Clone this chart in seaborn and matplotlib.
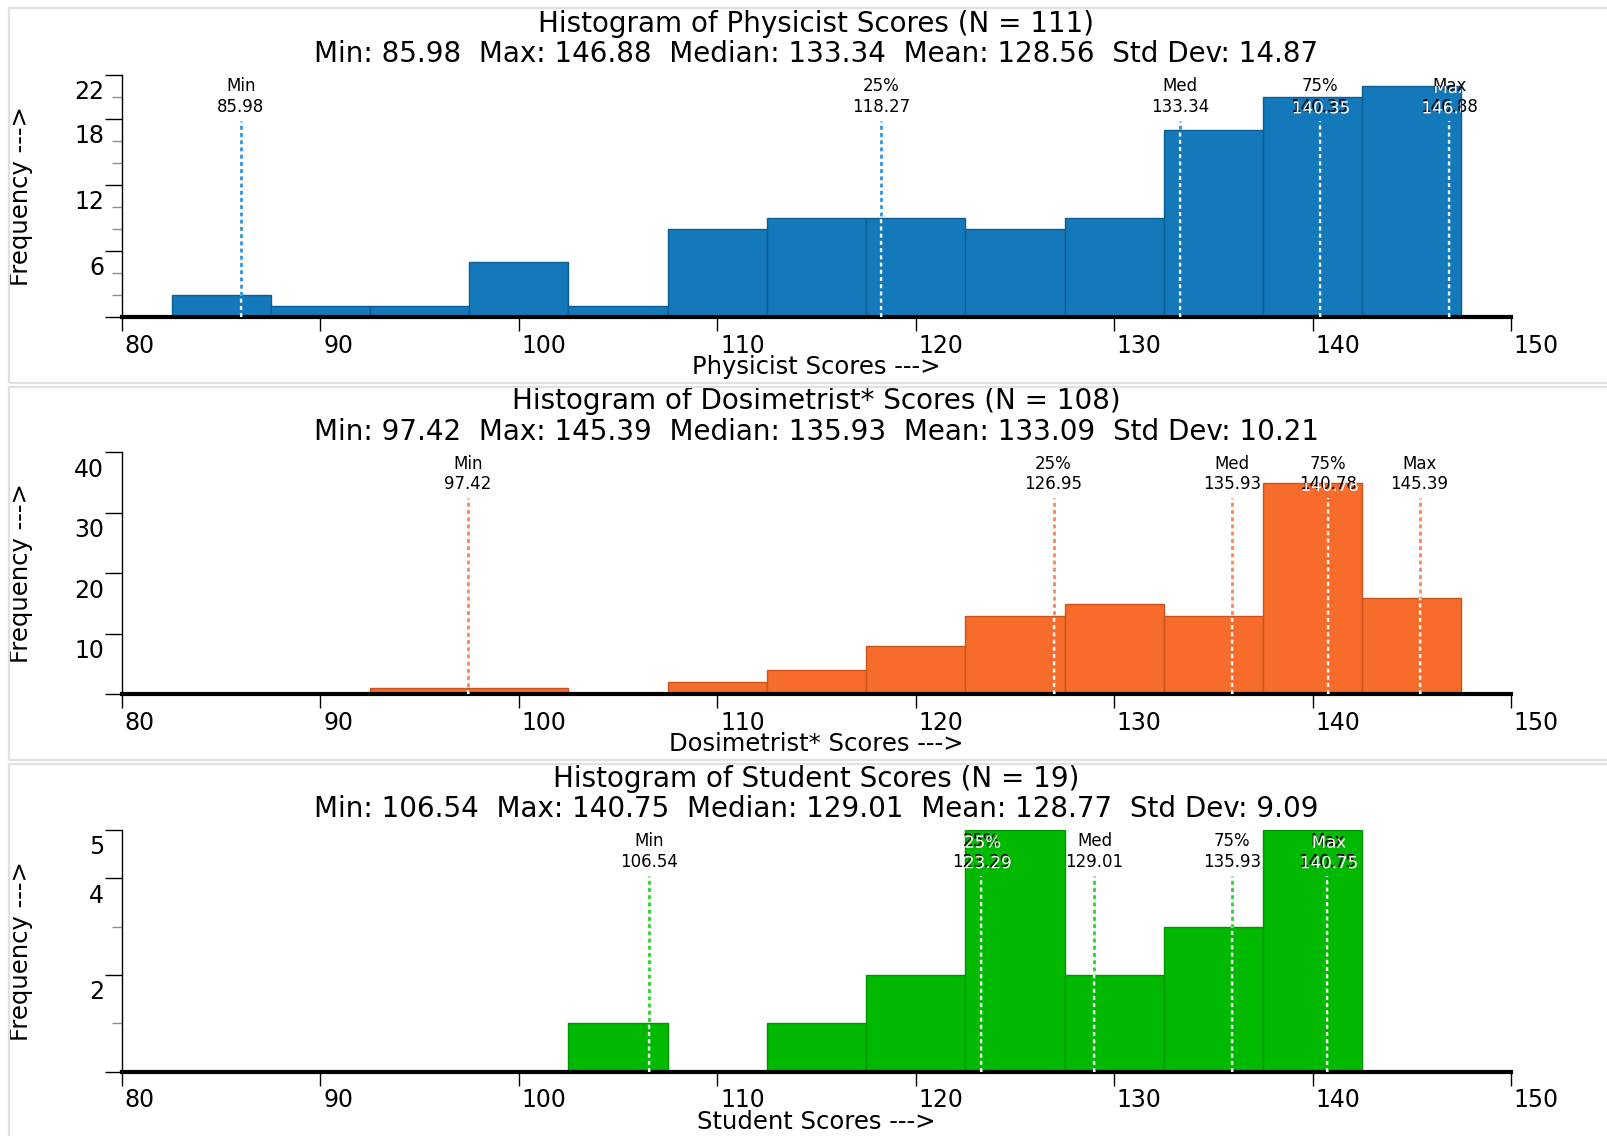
import matplotlib
matplotlib.use("Agg")
import matplotlib.pyplot as plt
import matplotlib.patheffects as pe
from matplotlib import transforms as mtransforms
from matplotlib.path import Path
from matplotlib.patches import Rectangle
import numpy as np
import seaborn as sns

# ---- data -------------------------------------------------------------
bin_edges = [82.5, 87.5, 92.5, 97.5, 102.5, 107.5, 112.5,
             117.5, 122.5, 127.5, 132.5, 137.5, 142.5, 147.5]

physicist_counts = [2, 1, 1, 5, 1, 8, 9, 9, 8, 9, 17, 20, 21]
dosimetrist_counts = [0, 0, 1, 1, 0, 2, 4, 8, 13, 15, 13, 35, 16]
student_counts = [0, 0, 0, 0, 1, 0, 1, 2, 5, 2, 3, 5, 0]

group_names = ["Physicist", "Dosimetrist*", "Student"]
group_n = [111, 108, 19]
group_min = [85.98, 97.42, 106.54]
group_q1 = [118.27, 126.95, 123.29]
group_median = [133.34, 135.93, 129.01]
group_q3 = [140.35, 140.78, 135.93]
group_max = [146.88, 145.39, 140.75]
group_mean = [128.56, 133.09, 128.77]
group_std = [14.87, 10.21, 9.09]

stat_labels = ["Min", "25%", "Med", "75%", "Max"]

x_ticks = [80, 90, 100, 110, 120, 130, 140, 150]
y_major_ticks = [[0, 6, 12, 18, 22], [0, 10, 20, 30, 40], [0, 2, 4, 5]]
y_minor_ticks = [[2, 4, 8, 10, 14, 16, 20], [], [1, 3]]

# ---- styling ----------------------------------------------------------
bar_colors = ["#1379ba", "#f76b2b", "#00b900"]
edge_colors = ["#0e5d91", "#c9541d", "#009400"]
marker_colors = ["#3393dc", "#fb8658", "#2fd12f"]

sns.set_theme(style="ticks")
plt.rcParams["font.family"] = ["DejaVu Sans"]
plt.rcParams["axes.edgecolor"] = "black"
plt.rcParams["xtick.color"] = "black"
plt.rcParams["ytick.color"] = "black"
plt.rcParams["text.color"] = "black"
plt.rcParams["axes.labelcolor"] = "black"

W, H = 1608, 1136
fig = plt.figure(figsize=(W / 100, H / 100), dpi=100)

# panel frames (pixel rows: top, bottom)
for top, bot in [(8, 383), (387, 760), (764, 1140)]:
    fig.add_artist(Rectangle((9 / W, 1 - bot / H), (1640 - 9) / W, (bot - top) / H,
                             transform=fig.transFigure, fill=False,
                             edgecolor="#e1e1e1", linewidth=1.6, clip_on=False))

ax_left, ax_w, ax_h = 122 / W, 1389 / W, 242 / H
baselines = [316.9, 694.3, 1071.7]
all_counts = [physicist_counts, dosimetrist_counts, student_counts]
bin_centers = [(a + b) / 2 for a, b in zip(bin_edges[:-1], bin_edges[1:])]

ax_px_h = 242.0
line_top = 1 - 46 / ax_px_h
lab_y = 1 - 11.5 / ax_px_h
val_y = 1 - 32 / ax_px_h
dash = (0, (1.4, 1.2))
dash_lw = 2.0

for i, name in enumerate(group_names):
    ax = fig.add_axes([ax_left, 1 - baselines[i] / H, ax_w, ax_h])
    sns.histplot(x=bin_centers, weights=all_counts[i], bins=bin_edges, ax=ax,
                 color=bar_colors[i], edgecolor=edge_colors[i], linewidth=1,
                 alpha=1)

    ax.set_xlim(80, 150)
    ax.set_ylim(0, y_major_ticks[i][-1])
    sns.despine(ax=ax)
    ax.spines["bottom"].set_linewidth(3)
    ax.spines["left"].set_linewidth(1)

    # clip region covering the filled bars
    bars = [p for p in ax.patches if p.get_height() > 0]
    clip = Path.make_compound_path(
        *[p.get_path().transformed(p.get_patch_transform()) for p in bars])

    blend = mtransforms.blended_transform_factory(ax.transData, ax.transAxes)
    shifted = mtransforms.offset_copy(blend, fig=fig, x=1.5, y=-1.5, units="dots")

    stats = [group_min[i], group_q1[i], group_median[i], group_q3[i], group_max[i]]
    for val, lab in zip(stats, stat_labels):
        ax.axvline(val, ymin=0, ymax=line_top, color=marker_colors[i],
                   lw=dash_lw, ls=dash, zorder=3)
        wl = ax.axvline(val, ymin=0, ymax=line_top, color="white",
                        lw=dash_lw * 0.8, ls=(0, (1.75, 1.5)), zorder=4)
        wl.set_clip_path(clip, ax.transData)
        for txt, yy in ((lab, lab_y), (f"{val:.2f}", val_y)):
            ax.text(val, yy, txt, transform=blend, ha="center", va="center",
                    fontsize=12, color="black", zorder=5)
            wt = ax.text(val, yy, txt, transform=shifted, ha="center",
                         va="center", fontsize=12, color="white", zorder=6,
                         clip_on=True, path_effects=[pe.Normal()])
            wt.set_clip_path(clip, ax.transData)

    # titles
    ax.text(0.5, 1 + 51 / ax_px_h,
            f"Histogram of {name} Scores (N = {group_n[i]})",
            transform=ax.transAxes, ha="center", va="center", fontsize=20)
    ax.text(0.5, 1 + 20.5 / ax_px_h,
            f"Min: {group_min[i]:.2f}  Max: {group_max[i]:.2f}  "
            f"Median: {group_median[i]:.2f}  Mean: {group_mean[i]:.2f}  "
            f"Std Dev: {group_std[i]:.2f}",
            transform=ax.transAxes, ha="center", va="center", fontsize=20)

    # ticks
    ax.set_xticks(x_ticks)
    ax.set_xticklabels([str(t) for t in x_ticks], ha="left")
    ax.tick_params(axis="x", direction="out", length=10, width=1, pad=2,
                   labelsize=17, bottom=True)
    for lbl in ax.get_xticklabels():
        lbl.set_transform(lbl.get_transform() + mtransforms.ScaledTranslation(
            2 / 72, 0, fig.dpi_scale_trans))
    ax.set_yticks(y_major_ticks[i])
    ax.set_yticklabels(["" if t == 0 else str(t) for t in y_major_ticks[i]],
                       va="top")
    ax.set_yticks(y_minor_ticks[i], minor=True)
    ax.tick_params(axis="y", which="major", direction="out", length=12,
                   width=1, pad=1, labelsize=17, left=True)
    ax.tick_params(axis="y", which="minor", direction="out", length=7,
                   width=1, color="#8c8c8c", left=True)
    for lbl in ax.get_yticklabels():
        lbl.set_transform(lbl.get_transform() + mtransforms.ScaledTranslation(
            0, -4 / 72, fig.dpi_scale_trans))

    # axis labels
    ax.set_xlabel(f"{name} Scores --->", fontsize=17.5)
    ax.xaxis.set_label_coords(0.5, -50 / ax_px_h)
    ax.xaxis.label.set_va("center")
    ax.set_ylabel("Frequency --->", fontsize=17.5)
    ax.yaxis.set_label_coords(-101 / 1389, 0.5)
    ax.yaxis.label.set_va("center")

fig.savefig("out.png", dpi=100)
